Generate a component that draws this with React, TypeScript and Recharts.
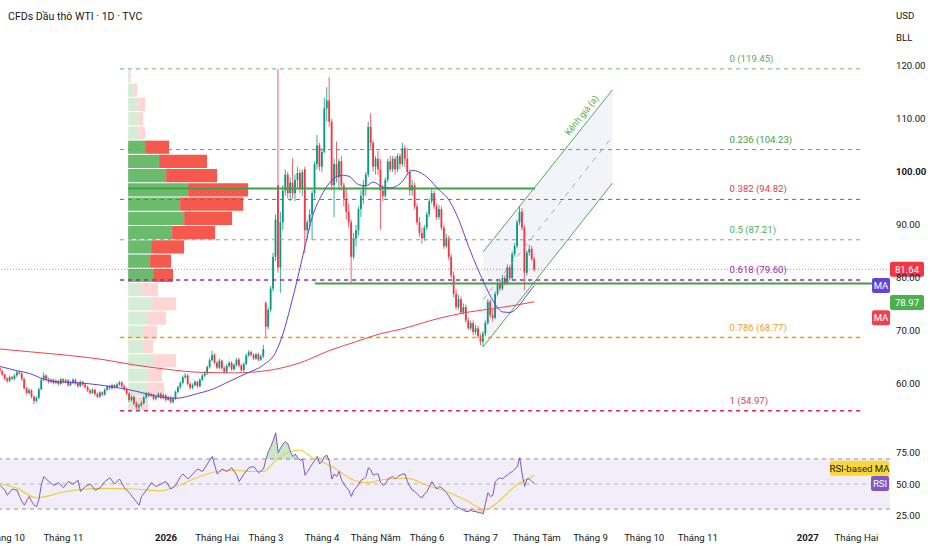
import React from 'react';
import {
  ComposedChart, Bar, Line, Area, XAxis, YAxis, ReferenceLine, ReferenceArea, ReferenceDot,
} from 'recharts';

// daily bars, index 0 = start of Oct 2025, last bar = end of Jul 2026
const opens = [
  63.0, 62.4, 61.8, 61.0, 60.6, 61.3, 61.0, 61.6, 62.2, 62.0,
  60.9, 59.2, 58.3, 58.8, 57.6, 56.8, 57.4, 59.0, 60.8, 61.6,
  60.9, 60.4, 60.8, 60.2, 60.6, 60.0, 60.9, 60.4, 60.7, 59.8,
  60.3, 60.8, 60.1, 59.6, 60.4, 59.9, 59.4, 58.8, 58.3, 58.9,
  58.1, 57.6, 58.4, 58.0, 58.9, 59.5, 59.2, 59.8, 59.4, 59.9,
  60.3, 59.6, 59.0, 58.2, 57.0, 57.6, 56.3, 55.6, 56.0, 56.4,
  57.5, 58.2, 57.8, 58.0, 57.2, 57.6, 58.1, 57.4, 57.9, 57.0,
  57.5, 56.6, 57.3, 58.5, 59.4, 60.2, 61.3, 61.6, 60.0, 59.3,
  59.8, 60.4, 59.6, 60.8, 61.6, 62.0, 63.2, 64.5, 65.5, 64.0,
  63.1, 64.4, 63.0, 62.3, 63.4, 64.0, 62.8, 63.6, 64.6, 63.5,
  62.6, 63.8, 65.4, 66.0, 65.5, 64.8, 65.6, 64.6, 65.2, 75.3,
  70.8, 74.0, 78.0, 84.0, 97.5, 82.0, 90.5, 96.5, 99.5, 96.0,
  98.0, 96.0, 98.5, 99.8, 97.0, 100.5, 89.0, 90.5, 92.0, 96.0,
  101.5, 105.0, 101.0, 103.8, 112.0, 113.5, 109.5, 97.5, 101.5, 99.0,
  102.0, 97.5, 95.0, 92.5, 90.5, 84.0, 87.5, 89.0, 93.0, 95.5,
  97.5, 99.5, 108.5, 105.5, 101.0, 102.5, 100.5, 96.5, 95.5, 98.5,
  102.0, 100.5, 102.5, 100.5, 103.0, 101.5, 104.5, 102.5, 100.0, 96.5,
  97.5, 93.5, 90.5, 88.5, 87.5, 89.5, 92.0, 94.5, 96.0, 93.5,
  91.5, 93.0, 89.5, 86.0, 87.5, 84.0, 80.5, 77.0, 74.5, 76.0,
  73.5, 74.5, 72.0, 70.5, 71.5, 69.8, 70.5, 69.0, 68.0, 69.5,
  71.5, 75.5, 73.0, 72.5, 77.0, 79.0, 78.0, 80.0, 79.0, 82.0,
  80.0, 84.5, 86.0, 90.5, 92.5, 89.5, 81.0, 84.8, 85.5, 83.6,
];
const highs = [
  63.4, 62.7, 62.0, 61.3, 61.6, 61.5, 61.9, 62.5, 62.5, 62.2,
  61.1, 59.5, 59.2, 59.0, 57.9, 57.7, 59.3, 61.2, 62.2, 61.8,
  61.2, 61.1, 61.0, 60.9, 60.8, 61.2, 61.1, 61.0, 60.9, 60.6,
  61.1, 61.0, 60.4, 60.7, 60.6, 60.1, 59.7, 59.1, 59.2, 59.1,
  58.4, 58.7, 58.6, 59.2, 59.8, 59.8, 60.1, 60.0, 60.2, 60.6,
  60.5, 59.9, 59.3, 58.4, 57.9, 57.8, 56.7, 56.3, 56.8, 57.8,
  58.5, 58.5, 58.3, 58.2, 57.9, 58.4, 58.4, 58.2, 58.1, 57.8,
  57.7, 57.6, 58.8, 59.7, 60.5, 61.6, 62.1, 61.9, 60.3, 60.1,
  60.7, 60.6, 61.1, 61.9, 62.4, 63.5, 64.9, 66.3, 65.8, 64.3,
  64.8, 64.6, 63.4, 63.8, 64.3, 64.3, 63.9, 64.9, 65.0, 63.8,
  64.1, 65.7, 66.4, 66.3, 65.8, 65.9, 65.9, 65.6, 67.4, 75.6,
  74.5, 78.5, 84.8, 92.0, 119.45, 92.5, 97.5, 100.5, 100.0, 99.0,
  102.6, 99.5, 101.0, 100.5, 100.5, 101.0, 91.0, 93.0, 96.5, 102.0,
  107.0, 105.5, 104.5, 114.0, 116.0, 117.9, 110.0, 102.5, 105.7, 102.5,
  103.0, 98.0, 97.0, 94.0, 91.0, 88.5, 90.0, 93.5, 96.5, 98.5,
  100.0, 109.5, 111.1, 106.0, 103.0, 104.0, 102.5, 97.5, 99.0, 102.5,
  103.0, 103.0, 103.0, 103.5, 103.5, 105.5, 105.0, 104.5, 100.5, 98.5,
  98.0, 94.0, 91.5, 89.5, 90.0, 92.5, 95.0, 97.0, 96.5, 94.0,
  93.8, 93.5, 90.0, 88.3, 88.0, 84.5, 81.2, 77.8, 76.8, 76.5,
  75.2, 75.0, 72.6, 72.0, 72.0, 71.2, 71.0, 69.5, 70.0, 72.0,
  76.0, 76.0, 74.0, 77.5, 79.8, 79.5, 80.6, 80.5, 82.6, 82.4,
  85.0, 86.6, 91.0, 93.6, 93.2, 90.0, 85.2, 86.3, 86.0, 84.0,
];
const lows = [
  62.0, 61.5, 60.7, 60.2, 60.3, 60.7, 60.7, 61.3, 61.7, 60.6,
  58.9, 58.0, 58.0, 57.3, 56.2, 56.5, 57.1, 58.8, 60.5, 60.6,
  60.1, 60.1, 59.9, 60.0, 59.7, 59.8, 60.1, 60.2, 59.5, 59.6,
  60.0, 59.8, 59.3, 59.4, 59.6, 59.1, 58.5, 58.0, 58.1, 57.8,
  57.3, 57.4, 57.7, 57.8, 58.7, 58.9, 58.9, 59.1, 59.2, 59.6,
  59.3, 58.7, 57.9, 56.6, 56.7, 56.0, 55.2, 54.97, 55.7, 56.1,
  57.2, 57.5, 57.5, 56.9, 56.9, 57.3, 57.1, 57.1, 56.7, 56.8,
  56.3, 56.3, 57.0, 58.2, 59.1, 59.9, 61.0, 59.7, 58.9, 59.0,
  59.5, 59.3, 59.3, 60.5, 61.3, 61.7, 62.9, 64.2, 63.7, 62.8,
  62.8, 62.7, 62.0, 62.0, 63.1, 62.5, 62.5, 63.3, 63.2, 62.3,
  62.3, 63.5, 65.1, 65.2, 64.5, 64.5, 64.3, 64.3, 64.9, 68.9,
  70.3, 73.5, 77.5, 83.2, 81.0, 77.2, 89.0, 95.5, 95.0, 94.5,
  95.0, 94.5, 97.0, 96.0, 95.5, 84.7, 87.5, 89.0, 87.2, 95.0,
  100.5, 100.2, 100.0, 103.5, 109.5, 108.5, 96.5, 91.5, 98.0, 96.5,
  96.5, 93.5, 91.0, 89.5, 79.0, 83.5, 86.0, 88.0, 91.5, 94.0,
  95.5, 99.0, 104.5, 100.0, 99.5, 99.5, 89.1, 94.5, 95.0, 98.0,
  100.0, 100.0, 99.5, 100.0, 100.5, 101.0, 101.0, 99.5, 95.5, 95.5,
  93.0, 90.0, 87.8, 86.5, 87.0, 89.0, 91.5, 94.0, 93.0, 91.0,
  91.0, 89.0, 85.5, 85.6, 83.4, 80.0, 76.4, 74.0, 74.0, 73.2,
  73.1, 71.6, 70.2, 70.1, 69.2, 69.3, 68.6, 67.3, 67.0, 69.0,
  71.2, 72.5, 71.8, 72.2, 76.5, 77.5, 77.7, 78.6, 78.7, 79.5,
  79.6, 84.0, 85.6, 90.0, 89.0, 77.7, 80.5, 84.2, 83.2, 81.2,
];
const closes = [
  62.4, 61.8, 61.0, 60.6, 61.3, 61.0, 61.6, 62.2, 62.0, 60.9,
  59.2, 58.3, 58.8, 57.6, 56.8, 57.4, 59.0, 60.8, 61.6, 60.9,
  60.4, 60.8, 60.2, 60.6, 60.0, 60.9, 60.4, 60.7, 59.8, 60.3,
  60.8, 60.1, 59.6, 60.4, 59.9, 59.4, 58.8, 58.3, 58.9, 58.1,
  57.6, 58.4, 58.0, 58.9, 59.5, 59.2, 59.8, 59.4, 59.9, 60.3,
  59.6, 59.0, 58.2, 57.0, 57.6, 56.3, 55.6, 56.0, 56.4, 57.5,
  58.2, 57.8, 58.0, 57.2, 57.6, 58.1, 57.4, 57.9, 57.0, 57.5,
  56.6, 57.3, 58.5, 59.4, 60.2, 61.3, 61.6, 60.0, 59.3, 59.8,
  60.4, 59.6, 60.8, 61.6, 62.0, 63.2, 64.5, 65.5, 64.0, 63.1,
  64.4, 63.0, 62.3, 63.4, 64.0, 62.8, 63.6, 64.6, 63.5, 62.6,
  63.8, 65.4, 66.0, 65.5, 64.8, 65.6, 64.6, 65.2, 66.6, 70.8,
  74.0, 78.0, 84.0, 91.0, 82.0, 90.5, 96.5, 99.5, 96.0, 98.0,
  96.0, 98.5, 99.8, 97.0, 100.0, 89.0, 90.5, 92.0, 96.0, 101.5,
  105.0, 101.0, 103.8, 112.0, 113.5, 109.5, 97.5, 101.5, 99.0, 102.0,
  97.5, 95.0, 92.5, 90.5, 84.0, 87.5, 89.0, 93.0, 95.5, 97.5,
  99.5, 108.5, 105.5, 101.0, 102.5, 100.5, 96.5, 95.5, 98.5, 102.0,
  100.5, 102.5, 100.5, 103.0, 101.5, 104.5, 102.5, 100.0, 96.5, 97.5,
  93.5, 90.5, 88.5, 87.5, 89.5, 92.0, 94.5, 96.0, 93.5, 91.5,
  93.0, 89.5, 86.0, 87.5, 84.0, 80.5, 77.0, 74.5, 76.0, 73.5,
  74.5, 72.0, 70.5, 71.5, 69.8, 70.5, 69.0, 68.0, 69.5, 71.5,
  75.5, 73.0, 72.5, 77.0, 79.0, 78.0, 80.0, 79.0, 82.0, 80.0,
  84.5, 86.0, 90.5, 92.5, 89.5, 81.0, 84.8, 85.5, 83.6, 81.64,
];

// moving averages: [bar index, value]
const maFastPoints = [
  [0, 63.3], [7, 62.5], [12, 62.0], [18, 60.9], [24, 60.4], [33, 60.2], [41, 59.8], [47, 59.4],
  [52, 59.0], [57, 58.5], [62, 57.9], [72, 57.3], [81, 58.2], [87, 59.0], [94, 60.5], [101, 62.0],
  [108, 63.6], [113, 66.0], [116, 69.5], [119, 74.5], [122, 80.0], [125, 86.0], [128, 91.5],
  [132, 95.8], [136, 98.4], [140, 99.4], [143, 99.2], [147, 97.6], [150, 97.4], [153, 98.1],
  [157, 97.1], [160, 97.0], [164, 97.8], [169, 100.3], [174, 99.4], [180, 96.6], [184, 94.7],
  [188, 91.0], [192, 86.0], [196, 81.5], [200, 77.5], [203, 75.0], [206, 73.6], [209, 73.5],
  [212, 74.4], [215, 76.2], [219, 78.6],
];
const maSlowPoints = [
  [0, 66.6], [14, 66.0], [28, 65.4], [41, 64.7], [55, 63.6], [68, 62.8], [82, 62.2], [96, 62.1],
  [109, 62.5], [123, 64.0], [135, 66.3], [146, 68.0], [156, 69.5], [164, 70.3], [180, 72.4],
  [191, 73.5], [205, 74.4], [219, 75.5],
];

const rsiPoints = [
  [0, 49], [2, 45], [3, 41], [5, 46], [7, 45], [8, 40], [9, 36], [10, 33], [11, 37], [12, 40],
  [13, 36], [14, 33], [15, 32], [16, 38], [17, 50], [18, 56], [19, 54], [20, 52], [22, 49],
  [24, 51], [26, 47], [28, 52], [30, 50], [32, 53], [33, 44], [35, 48], [37, 50], [39, 45],
  [41, 47], [43, 52], [45, 55], [47, 50], [49, 54], [51, 47], [53, 43], [55, 38], [57, 33],
  [58, 40], [60, 45], [62, 51], [64, 48], [66, 50], [68, 52], [70, 46], [72, 49], [74, 56],
  [75, 58], [77, 54], [79, 58], [81, 62], [83, 60], [85, 66], [87, 72], [89, 58], [91, 62],
  [93, 60], [95, 63], [97, 57], [98, 52], [100, 58], [102, 63], [104, 64], [106, 59], [108, 62],
  [109, 70], [110, 76], [111, 80], [112, 85], [113, 91], [114, 75], [115, 79], [116, 82],
  [117, 84], [118, 82], [119, 76], [120, 72], [121, 74], [122, 71], [123, 69], [124, 70],
  [125, 57], [126, 60], [127, 63], [128, 66], [129, 69], [130, 72], [131, 66], [132, 68],
  [133, 72], [134, 73], [135, 68], [136, 54], [137, 58], [138, 56], [139, 60], [140, 53],
  [141, 50], [142, 47], [143, 45], [144, 40], [145, 45], [146, 47], [147, 50], [148, 53],
  [149, 54], [150, 56], [151, 63], [152, 61], [153, 57], [154, 58], [155, 58], [156, 51],
  [157, 49], [158, 50], [159, 54], [160, 55], [161, 56], [162, 54], [163, 56], [164, 57],
  [165, 58], [166, 58], [167, 52], [168, 48], [169, 45], [170, 44], [171, 42], [172, 40],
  [173, 39], [174, 42], [175, 44], [176, 48], [177, 52], [178, 49], [179, 46], [180, 48],
  [181, 47], [182, 45], [183, 43], [184, 40], [185, 37], [186, 34], [187, 32], [188, 31],
  [189, 30], [190, 29], [191, 28], [192, 28], [193, 29], [194, 28], [195, 28], [196, 27],
  [197, 27], [198, 26], [199, 35], [200, 43], [201, 40], [202, 41], [203, 52], [204, 54],
  [205, 55], [206, 54], [207, 56], [208, 57], [209, 59], [210, 60], [211, 62], [212, 64],
  [213, 71], [214, 58], [215, 48], [216, 54], [217, 54], [218, 52], [219, 50.5],
];
const rsiMaPoints = [
  [0, 50.5], [7, 46.5], [15, 39], [27, 44], [41, 46.5], [55, 46], [66, 44.5], [72, 48], [82, 56],
  [89, 60], [96, 61], [104, 60], [108, 60], [113, 69], [119, 76], [123, 77], [128, 71], [136, 64],
  [145, 53], [150, 51], [159, 54], [167, 54.5], [175, 49], [183, 44], [191, 37], [199, 29.5],
  [204, 35.5], [211, 48], [218, 56], [219, 57],
];

const fibRatios = [0, 0.236, 0.382, 0.5, 0.618, 0.786, 1];
const fibPrices = [119.45, 104.23, 94.82, 87.21, 79.6, 68.77, 54.97];
const fibColors = ['#66ad78', '#4caf50', '#f23645', '#8aa08f', '#9c27b0', '#ff9800', '#e91e63'];
const fibLabelColors = ['#5aa86b', '#43a047', '#e53949', '#4caf50', '#9c27b0', '#f0a030', '#e0405f'];

// fixed range volume profile, rows from top (119.45) to bottom (54.97), in screen-width units
const vpBuy = [0.5, 5, 10, 10, 10, 17, 31, 38, 60, 52, 56, 44, 23, 22, 25, 14, 24, 19, 15, 15, 25, 20, 20, 10];
const vpSell = [2, 4, 7, 5, 7, 24, 48, 51, 60, 63, 48, 43, 33, 21, 20, 16, 24, 19, 14, 10, 23, 14, 16, 10];
const vpValueArea = [5, 14];
const vpStartBar = 52.5;

const channelIdx = [198, 251];
const channelLow = [67.0, 97.9];
const channelHigh = [84.9, 115.5];

const pocPrice = 96.9;
const rayPrice = 78.97;
const lastPrice = 81.64;

const timeTicks = [2, 26, 68, 89, 109, 132, 154, 175, 197, 220, 242, 264, 286, 331, 351];
const timeLabels = ['Tháng 10', 'Tháng 11', '2026', 'Tháng Hai', 'Tháng 3', 'Tháng 4', 'Tháng Năm', 'Tháng 6',
  'Tháng 7', 'Tháng Tám', 'Tháng 9', 'Tháng 10', 'Tháng 11', '2027', 'Tháng Hai'];
const priceTicks = [60, 70, 80, 90, 100, 110, 120];
const rsiTicks = [25, 50, 75];

const X_MAX = 364.75;
const PLOT_W = 890;
const BAR_PX = PLOT_W / X_MAX;
const TEXT = '#131722';
const FS = 9.6;

const rows: any[] = Array.from({ length: 252 }, (_, i) => {
  const r: any = { i };
  if (i < closes.length) {
    r.o = opens[i]; r.h = highs[i]; r.l = lows[i]; r.c = closes[i];
    r.range = [lows[i], highs[i]];
  }
  return r;
});
maFastPoints.forEach(([i, v]) => { rows[i].maFast = v; });
maSlowPoints.forEach(([i, v]) => { rows[i].maSlow = v; });
rsiPoints.forEach(([i, v]) => {
  rows[i].rsi = v;
  rows[i].ob = v > 70 ? [70, v] : [70, 70];
  rows[i].os = v < 30 ? [v, 30] : [30, 30];
});
rsiMaPoints.forEach(([i, v]) => { rows[i].rsiMa = v; });
channelIdx.forEach((i, k) => {
  rows[i].chanLo = channelLow[k];
  rows[i].chanHi = channelHigh[k];
  rows[i].chanMid = (channelLow[k] + channelHigh[k]) / 2;
  rows[i].chan = [channelLow[k], channelHigh[k]];
});

const vpStep = (fibPrices[0] - fibPrices[6]) / vpBuy.length;
const vpX = (w: number) => vpStartBar + w / BAR_PX;

const Candle = (p: any) => {
  const { x, y, width, height, payload } = p;
  if (!payload || payload.o == null) return <g />;
  const { o, h, l, c } = payload;
  const top = Math.min(y, y + height);
  const full = Math.abs(height);
  const cx = x + width / 2;
  const k = h - l > 0 ? full / (h - l) : 0;
  const yo = top + (h - o) * k;
  const yc = top + (h - c) * k;
  const col = c >= o ? '#089981' : '#f23645';
  return (
    <g>
      <line x1={cx} x2={cx} y1={top} y2={top + full} stroke={col} strokeWidth={0.8} />
      <rect x={cx - 0.9} y={Math.min(yo, yc)} width={1.8} height={Math.max(0.8, Math.abs(yc - yo))} fill={col} />
    </g>
  );
};

const ValTick = (p: any) => {
  const v = p.payload.value;
  return (
    <text x={p.x} y={p.y} dy={3.5} textAnchor="start" fontSize={FS} fill={TEXT} fontWeight={v === 100 ? 700 : 400}>
      {v.toFixed(2)}
    </text>
  );
};

const TimeTick = (p: any) => {
  const k = timeTicks.indexOf(p.payload.value);
  const lbl = k >= 0 ? timeLabels[k] : '';
  const bold = /^\d{4}$/.test(lbl);
  return (
    <text x={p.x} y={p.y} dy={7} textAnchor="middle" fontSize={FS} fill={TEXT} fontWeight={bold ? 700 : 400}>
      {lbl}
    </text>
  );
};

const boxLabel = (text: string, bg: string, x0: number, w: number, dy: number, fg = '#ffffff') => (p: any) => {
  const cy = (p.viewBox ? p.viewBox.y : 0) + dy;
  return (
    <g>
      <rect x={x0} y={cy - 7.5} width={w} height={15} rx={2} fill={bg} />
      <text x={x0 + w / 2} y={cy + 3.5} textAnchor="middle" fontSize={FS} fill={fg}>{text}</text>
    </g>
  );
};

const chanLabelIdx = 241;
const chanLabelPrice = channelHigh[0]
  + ((chanLabelIdx - channelIdx[0]) / (channelIdx[1] - channelIdx[0])) * (channelHigh[1] - channelHigh[0]);

export default function App() {
  const lastFast = maFastPoints[maFastPoints.length - 1][1];
  const lastSlow = maSlowPoints[maSlowPoints.length - 1][1];
  const lastRsi = rsiPoints[rsiPoints.length - 1][1];
  const lastRsiMa = rsiMaPoints[rsiMaPoints.length - 1][1];

  return (
    <div style={{ position: 'absolute', left: 0, top: 0, width: 932, height: 550, background: '#fff', overflow: 'hidden', fontFamily: "Roboto, 'Liberation Sans', Arial, sans-serif" }}>
      <div style={{ position: 'absolute', left: 8, top: 10, fontSize: 10.6, color: TEXT, zIndex: 2 }}>
        CFDs Dầu thô WTI · 1D · TVC
      </div>
      <div style={{ position: 'absolute', left: 896, top: 10, fontSize: FS, color: TEXT, zIndex: 2 }}>USD</div>
      <div style={{ position: 'absolute', left: 896, top: 32, fontSize: FS, color: TEXT, zIndex: 2 }}>BLL</div>

      <ComposedChart width={932} height={430} data={rows} margin={{ top: 0, right: 0, bottom: 0, left: 0 }}>
        <XAxis dataKey="i" type="number" domain={[0, X_MAX]} allowDataOverflow hide />
        <YAxis
          orientation="right" domain={[51.32, 132.45]} allowDataOverflow ticks={priceTicks} width={42}
          axisLine={false} tickLine={false} tickSize={6} tickMargin={0} tick={<ValTick />}
        />

        {vpBuy.map((b, k) => {
          const top = fibPrices[0] - k * vpStep;
          const inVA = k >= vpValueArea[0] && k <= vpValueArea[1];
          return (
            <ReferenceArea
              key={`vb${k}`} x1={vpX(0)} x2={vpX(b)} y1={top - vpStep + 0.1} y2={top - 0.1}
              fill={inVA ? '#6bbb6e' : '#d6ecd7'} fillOpacity={1} stroke="none"
            />
          );
        })}
        {vpSell.map((s, k) => {
          const top = fibPrices[0] - k * vpStep;
          const inVA = k >= vpValueArea[0] && k <= vpValueArea[1];
          return (
            <ReferenceArea
              key={`vs${k}`} x1={vpX(vpBuy[k])} x2={vpX(vpBuy[k] + s)} y1={top - vpStep + 0.1} y2={top - 0.1}
              fill={inVA ? '#f5594e' : '#fdd6d6'} fillOpacity={1} stroke="none"
            />
          );
        })}

        {fibPrices.map((p, k) => (
          <ReferenceLine
            key={`f${k}`} segment={[{ x: 49.2, y: p }, { x: 353.3, y: p }]}
            stroke={fibColors[k]} strokeWidth={k >= 4 ? 1.5 : 1} strokeDasharray="4 4"
          />
        ))}
        {fibPrices.map((p, k) => (
          <ReferenceDot
            key={`fl${k}`} x={299} y={p} r={0}
            shape={(sp: any) => (
              <text x={sp.cx} y={sp.cy - 7} fontSize={FS} fill={fibLabelColors[k]}>
                {`${fibRatios[k]} (${p.toFixed(2)})`}
              </text>
            )}
          />
        ))}

        <Area dataKey="chan" type="linear" connectNulls fill="#eef0f6" fillOpacity={0.7} stroke="none" activeDot={false} isAnimationActive={false} />
        <Line dataKey="chanHi" type="linear" connectNulls stroke="#4caf50" strokeWidth={1} dot={false} activeDot={false} isAnimationActive={false} />
        <Line dataKey="chanLo" type="linear" connectNulls stroke="#4caf50" strokeWidth={1} dot={false} activeDot={false} isAnimationActive={false} />
        <Line dataKey="chanMid" type="linear" connectNulls stroke="#a5a8b3" strokeWidth={1} strokeDasharray="5 6" dot={false} activeDot={false} isAnimationActive={false} />
        <ReferenceDot
          x={chanLabelIdx} y={chanLabelPrice} r={0}
          shape={(sp: any) => (
            <text x={sp.cx} y={sp.cy - 5} textAnchor="middle" fontSize={9} fill="#4caf50" transform={`rotate(-51.4 ${sp.cx} ${sp.cy})`}>
              Kênh giá (a)
            </text>
          )}
        />

        <ReferenceLine y={lastPrice} stroke="#f23645" strokeOpacity={0.7} strokeDasharray="1 2" label={boxLabel(lastPrice.toFixed(2), '#f23645', 890, 34, 0)} />
        <ReferenceLine segment={[{ x: vpStartBar, y: pocPrice }, { x: 219.3, y: pocPrice }]} stroke="#43a047" strokeWidth={2} />
        <ReferenceLine segment={[{ x: 129, y: rayPrice }, { x: X_MAX, y: rayPrice }]} stroke="#43a047" strokeWidth={2} />

        <Bar dataKey="range" barSize={2} shape={<Candle />} activeBar={false} isAnimationActive={false} />
        <Line dataKey="maSlow" type="monotone" connectNulls stroke="#e8474f" strokeWidth={1} dot={false} activeDot={false} isAnimationActive={false} />
        <Line dataKey="maFast" type="monotone" connectNulls stroke="#6741d9" strokeWidth={1} dot={false} activeDot={false} isAnimationActive={false} />

        <ReferenceLine y={rayPrice} stroke="none" label={boxLabel(rayPrice.toFixed(2), '#4caf50', 890, 34, 19)} />
        <ReferenceLine y={lastFast} stroke="none" label={boxLabel('MA', '#6741d9', 872, 18, 0)} />
        <ReferenceLine y={lastSlow} stroke="none" label={boxLabel('MA', '#f0424c', 872, 18, 16)} />
      </ComposedChart>

      <ComposedChart width={932} height={120} data={rows} margin={{ top: 0, right: 0, bottom: 0, left: 0 }}>
        <XAxis
          dataKey="i" type="number" domain={[0, X_MAX]} allowDataOverflow ticks={timeTicks} interval={0}
          axisLine={false} tickLine={false} tickSize={6} tickMargin={0} height={22} tick={<TimeTick />}
        />
        <YAxis
          orientation="right" domain={[14.8, 93.2]} allowDataOverflow ticks={rsiTicks} width={42}
          axisLine={false} tickLine={false} tickSize={6} tickMargin={0} tick={<ValTick />}
        />
        <ReferenceArea y1={30} y2={70} fill="#7e57c2" fillOpacity={0.1} stroke="none" />
        <ReferenceLine y={70} stroke="#787b86" strokeOpacity={0.8} strokeDasharray="4 4" />
        <ReferenceLine y={50} stroke="#787b86" strokeOpacity={0.5} strokeDasharray="4 4" />
        <ReferenceLine y={30} stroke="#787b86" strokeOpacity={0.8} strokeDasharray="4 4" />
        <Area dataKey="ob" type="linear" connectNulls fill="#4caf50" fillOpacity={0.3} stroke="none" activeDot={false} isAnimationActive={false} />
        <Area dataKey="os" type="linear" connectNulls fill="#f23645" fillOpacity={0.25} stroke="none" activeDot={false} isAnimationActive={false} />
        <Line dataKey="rsiMa" type="monotone" connectNulls stroke="#f2cc3a" strokeWidth={1.2} dot={false} activeDot={false} isAnimationActive={false} />
        <Line dataKey="rsi" type="linear" connectNulls stroke="#7e57c2" strokeWidth={1} dot={false} activeDot={false} isAnimationActive={false} />
        <ReferenceLine y={lastRsiMa} stroke="none" label={boxLabel('RSI-based MA', '#fdd835', 830, 59, -7, TEXT)} />
        <ReferenceLine y={lastRsi} stroke="none" label={boxLabel('RSI', '#7e57c2', 871, 18, 0)} />
      </ComposedChart>
    </div>
  );
}
